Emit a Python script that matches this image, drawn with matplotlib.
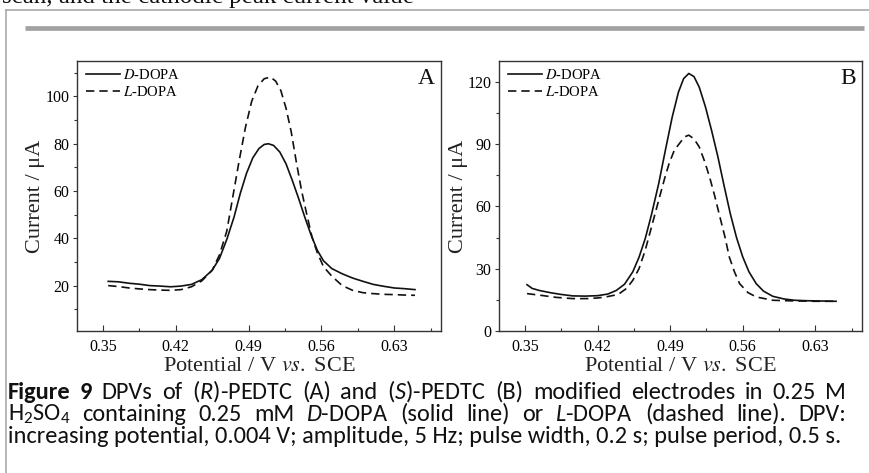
import matplotlib
matplotlib.use("Agg")
import matplotlib.pyplot as plt
from matplotlib import font_manager
from matplotlib.lines import Line2D
from matplotlib.ticker import MultipleLocator

# panel A, (R)-PEDTC electrode
a_d_x = [0.355, 0.365, 0.375, 0.385, 0.395, 0.405, 0.415, 0.425, 0.435, 0.445,
         0.455, 0.462, 0.469, 0.476, 0.482, 0.488, 0.494, 0.500, 0.505, 0.509,
         0.514, 0.520, 0.526, 0.532, 0.538, 0.544, 0.550, 0.556, 0.562, 0.570,
         0.580, 0.590, 0.600, 0.610, 0.620, 0.630, 0.640, 0.650]
a_d_y = [21.8, 21.6, 21.0, 20.6, 20.0, 19.8, 19.5, 19.8, 20.5, 22.5,
         26.5, 31.5, 39.5, 49.0, 59.0, 67.5, 74.0, 78.0, 79.7, 80.0,
         79.3, 76.5, 71.5, 64.5, 57.0, 49.0, 41.5, 35.0, 30.5, 27.2,
         25.0, 23.2, 21.8, 20.5, 19.7, 19.0, 18.7, 18.3]
a_l_x = [0.355, 0.365, 0.375, 0.385, 0.395, 0.405, 0.415, 0.425, 0.435, 0.445,
         0.455, 0.462, 0.469, 0.475, 0.481, 0.487, 0.493, 0.499, 0.505, 0.511,
         0.516, 0.521, 0.526, 0.531, 0.536, 0.541, 0.546, 0.551, 0.556, 0.562,
         0.570, 0.580, 0.590, 0.600, 0.610, 0.620, 0.630, 0.640, 0.650]
a_l_y = [20.0, 19.6, 19.0, 18.6, 18.3, 18.1, 18.0, 18.3, 19.5, 22.0,
         26.5, 33.0, 43.0, 58.0, 73.0, 87.0, 98.0, 104.5, 107.5, 108.2,
         106.5, 102.5, 95.0, 85.0, 72.0, 60.0, 50.0, 40.5, 34.0, 28.0,
         24.0, 20.0, 18.0, 17.0, 16.6, 16.3, 16.2, 16.0, 15.9]

# panel B, (S)-PEDTC electrode
b_d_x = [0.352, 0.357, 0.364, 0.375, 0.385, 0.396, 0.408, 0.420, 0.430, 0.438,
         0.446, 0.454, 0.460, 0.466, 0.472, 0.479, 0.485, 0.492, 0.498, 0.503,
         0.508, 0.513, 0.518, 0.524, 0.530, 0.536, 0.542, 0.548, 0.554, 0.560,
         0.566, 0.573, 0.580, 0.589, 0.600, 0.610, 0.620, 0.630, 0.640, 0.650]
b_d_y = [22.3, 20.5, 19.5, 18.4, 17.6, 16.9, 16.8, 17.0, 17.8, 19.5,
         22.5, 28.5, 35.5, 44.5, 56.0, 71.0, 86.0, 103.0, 115.0, 121.5,
         124.0, 122.5, 117.5, 108.0, 96.5, 84.0, 70.0, 56.5, 45.0, 35.7,
         28.5, 22.8, 19.2, 16.7, 15.4, 14.8, 14.6, 14.5, 14.4, 14.3]
b_l_x = [0.352, 0.365, 0.380, 0.396, 0.410, 0.420, 0.428, 0.436, 0.441, 0.448,
         0.454, 0.460, 0.466, 0.472, 0.479, 0.485, 0.489, 0.494, 0.499, 0.504,
         0.508, 0.513, 0.518, 0.523, 0.528, 0.533, 0.538, 0.543, 0.547, 0.552,
         0.557, 0.565, 0.573, 0.589, 0.608, 0.630, 0.650]
b_l_y = [18.0, 17.2, 16.2, 15.6, 15.6, 15.9, 16.4, 17.2, 18.0, 20.5,
         24.4, 30.0, 38.9, 50.0, 63.0, 74.0, 80.6, 87.0, 90.3, 93.5,
         94.3, 92.5, 88.7, 82.0, 74.2, 65.0, 54.9, 45.0, 35.7, 28.5,
         22.8, 18.5, 16.4, 14.8, 14.5, 14.3, 14.3]

x_ticks = [0.35, 0.42, 0.49, 0.56, 0.63]
legend_labels = [r"$\mathit{D}$-DOPA", r"$\mathit{L}$-DOPA"]
xlabel = r"Potential / V $\mathit{vs.}$ SCE"
ylabel = "Current / μA"

top_text = "scan, and the cathodic peak current value"
caption_lines = [
    [("Figure", "bold"), ("9", "bold"), ("DPVs", "normal"), ("of", "normal"),
     ("($R$)-PEDTC", "normal"), ("(A)", "normal"), ("and", "normal"),
     ("($S$)-PEDTC", "normal"), ("(B)", "normal"), ("modified", "normal"),
     ("electrodes", "normal"), ("in", "normal"), ("0.25", "normal"), ("M", "normal")],
    [("H$_2$SO$_4$", "normal"), ("containing", "normal"), ("0.25", "normal"),
     ("mM", "normal"), ("$D$-DOPA", "normal"), ("(solid", "normal"),
     ("line)", "normal"), ("or", "normal"), ("$L$-DOPA", "normal"),
     ("(dashed", "normal"), ("line).", "normal"), ("DPV:", "normal")],
]
caption_last = ("increasing potential, 0.004 V; amplitude, 5 Hz; "
                "pulse width, 0.2 s; pulse period, 0.5 s.")

# narrowest Calibri-like family that is installed
installed = {f.name for f in font_manager.fontManager.ttflist}
cap_font = "Lato"
for name in ["Carlito", "Liberation Sans Narrow", "Roboto Condensed", "Lato"]:
    if name in installed:
        cap_font = name
        break

plt.rcParams["font.family"] = ["Liberation Serif", "DejaVu Serif"]
plt.rcParams["mathtext.fontset"] = "stix"
plt.rcParams["mathtext.rm"] = cap_font
plt.rcParams["mathtext.it"] = cap_font + ":italic"
plt.rcParams["mathtext.bf"] = cap_font + ":bold"

W, H = 869, 473
fig = plt.figure(figsize=(W / 100, H / 100), dpi=100)
fig.patch.set_facecolor("white")


def fx(x):
    return x / W


def fy(y):
    return 1 - y / H


# page decorations
fig.add_artist(Line2D([fx(6), fx(6)], [fy(10), fy(H)], transform=fig.transFigure,
                      color="#a9a9a9", lw=1.2))
fig.add_artist(Line2D([fx(6), fx(W)], [fy(10), fy(10)], transform=fig.transFigure,
                      color="#a9a9a9", lw=1.2))
fig.add_artist(Line2D([fx(25), fx(864)], [fy(28.3), fy(28.3)], transform=fig.transFigure,
                      color="#a2a2a2", lw=3.4, solid_capstyle="butt"))
fig.text(fx(2), fy(3.5), top_text, fontsize=18, va="baseline", ha="left", color="#111111")

axA = fig.add_axes([fx(77), fy(331), 364 / W, 270 / H])
axB = fig.add_axes([fx(499), fy(331), 363 / W, 270 / H])

panels = [
    (axA, a_d_x, a_d_y, a_l_x, a_l_y, (0.8, 115), 20, 10, "A", -0.088),
    (axB, b_d_x, b_d_y, b_l_x, b_l_y, (0, 130), 30, 15, "B", -0.086),
]

for ax, dx, dy, lx, ly, ylim, ymaj, ymin, letter, ylx in panels:
    ax.plot(dx, dy, color="#111111", lw=1.2)
    ax.plot(lx, ly, color="#111111", lw=1.2, ls=(0, (5, 3)))
    ax.set_xlim(0.325, 0.675)
    ax.set_ylim(*ylim)
    ax.set_xticks(x_ticks)
    ax.set_xticklabels([f"{t:.2f}" for t in x_ticks])
    ax.xaxis.set_minor_locator(MultipleLocator(0.035))
    ax.yaxis.set_major_locator(MultipleLocator(ymaj))
    ax.yaxis.set_minor_locator(MultipleLocator(ymin))
    ax.tick_params(axis="x", which="both", direction="in", labelsize=11.5, pad=6,
                   width=0.8, color="#333333")
    ax.tick_params(axis="x", which="major", length=4.5)
    ax.tick_params(axis="x", which="minor", length=2.5)
    ax.tick_params(axis="y", which="both", direction="out", labelsize=11.5, pad=2.5,
                   width=0.8, color="#333333")
    ax.tick_params(axis="y", which="major", length=3)
    ax.tick_params(axis="y", which="minor", length=2.5)
    for s in ax.spines.values():
        s.set_color("#333333")
        s.set_linewidth(1.0)
    ax.set_xlabel(xlabel, fontsize=16, color="#222222")
    ax.xaxis.set_label_coords(0.5, -0.095)
    ax.set_ylabel(ylabel, fontsize=16, color="#222222")
    ax.yaxis.set_label_coords(ylx, 0.5)
    ax.text(0.984, 0.975, letter, transform=ax.transAxes, ha="right", va="top",
            fontsize=17, color="#111111")
    handles = [Line2D([], [], color="#111111", lw=1.2),
               Line2D([], [], color="#111111", lw=1.2, ls=(0, (5, 3)))]
    ax.legend(handles, legend_labels, loc="upper left", bbox_to_anchor=(0.025, 0.975),
              frameon=False, fontsize=10.5, handlelength=2.3, handletextpad=0.2,
              labelspacing=0.25, borderpad=0, borderaxespad=0)

# caption, fitted to the text block width and justified like the page
renderer = fig.canvas.get_renderer()
left, right = 8, 846
base_size = 10.0
probe = fig.text(0, 0, caption_last, fontsize=base_size, family=cap_font,
                 math_fontfamily="custom")
w = probe.get_window_extent(renderer).width
probe.remove()
cap_size = base_size * (right - left) / w

baselines = [398.5, 420.5, 442.5]
for line, yb in zip(caption_lines, baselines):
    items = []
    total = 0
    for word, weight in line:
        t = fig.text(0, fy(yb), word, fontsize=cap_size, family=cap_font,
                     fontweight=weight, math_fontfamily="custom",
                     ha="left", va="baseline", color="#111111")
        ww = t.get_window_extent(renderer).width
        items.append((t, ww))
        total += ww
    gap = (right - left - total) / (len(items) - 1)
    x = left
    for t, ww in items:
        t.set_x(fx(x))
        x += ww + gap
fig.text(fx(left), fy(baselines[2]), caption_last, fontsize=cap_size, family=cap_font,
         math_fontfamily="custom", ha="left", va="baseline", color="#111111")

fig.savefig("out.png", dpi=100, facecolor="white")
